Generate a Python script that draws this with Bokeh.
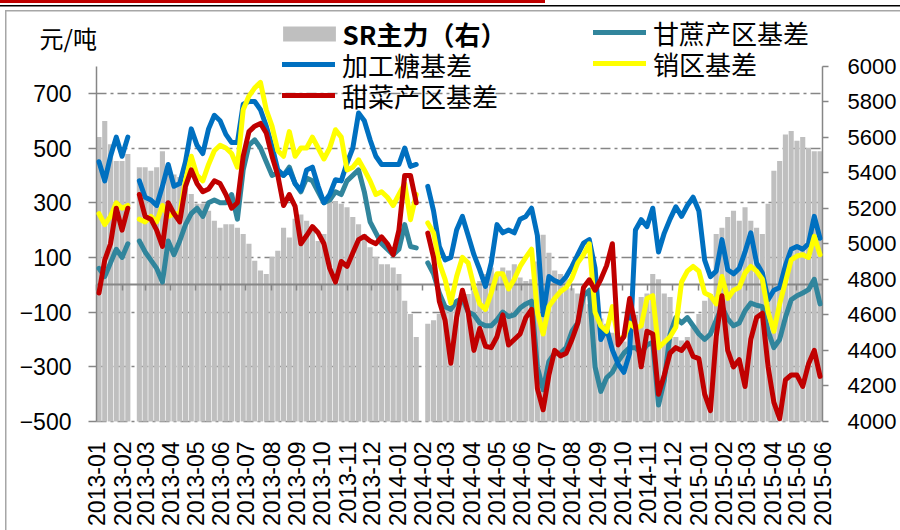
import math
import pandas as pd
from bokeh.plotting import figure
from bokeh.models import (Range1d, LinearAxis, DatetimeAxis, FixedTicker, Legend, LegendItem,
                          DatetimeTickFormatter, MonthsTicker, Label, CustomJSTickFormatter)
from bokeh.embed import file_html
from bokeh.resources import INLINE

nan = float("nan")

# weekly sample dates (x positions) and first / last month ticks
week_dates = pd.date_range("2013-01-04", periods=126, freq="7D")
x_first, x_last = pd.Timestamp("2013-01-01"), pd.Timestamp("2015-06-01")

# SR主力 (right axis, yuan/ton)
sr_main = [5600, 5690, 5560, 5465, 5465, 5505, nan, 5430, 5430, 5410, 5430, 5520, 5430, 5390, 5375, 5315,
           5280, 5225, 5225, 5185, 5130, 5090, 5110, 5110,
           5090, 5055, 5000, 4905, 4850, 4830, 4925, 4960, 5090, 5035, 5140, 5165, 5130, 5090, 5015, 5055,
           5280, 5240, 5225, 5205, 5150, 5110, 5055, 4980, 4925,
           4885, 4885, 4867, 4830, 4680, 4605, 4475, nan, 4550, 4570, 4605, 4640, 4640, 4680, 4717, 4717,
           4735, 4790, 4830, 4867, 4830, 4867, 4850, 4885, 4810,
           4790, 4800, 4900, 5050, 4950, 4850, 4830, 4800, 4750, 4720, 4700, 4660, 4620, 4580, 4550, 4500,
           4480, 4450, 4520, 4600, 4700, 4720, 4830, 4800, 4720, 4700,
           4475, 4455, 4475, 4530, 4605, 4680, 4717, 5055, 5090, 5150, 5185, 5130, 5205, 5130, 5090, 5055,
           5225, 5410, 5465, 5615, 5635, 5580, 5600, 5540, 5520, 5520]

# 甘蔗产区基差
cane_basis = [60, 30, 80, 130, 100, 150, nan, 160, 120, 90, 60, 10, 160, 110, 160, 220, 260, 280, 250, 300,
              310, 300, 300, 330,
              240, 420, 510, 530, 500, 450, 400, 410, 400, 430, 370, 340, 390, 380, 340, 300, 310, 340, 330,
              380, 400, 420, 340, 230, 190,
              150, 130, 110, 130, 220, 140, 135, nan, 80, 40, -30, -80, -90, -60, -50, -100, -110, -140, -150,
              -150, -128, -100, -116, -110, -85,
              -70, -60, -300, -384, -280, -250, -250, -230, -170, -140, -40, -20, -300, -390, -340, -320, -280,
              -250, -230, -230, -250, -220, -210, -440, -350, -180,
              -120, -140, -120, -150, -180, -200, -180, -130, -80, -125, -150, -140, -95, -67, -75, -80, -170,
              -230, -200, -120, -55, -40, -30, -18, 20, -70]

# 加工糖基差
refined_basis = [450, 380, 470, 540, 470, 540, nan, 380, 320, 310, 290, 360, 440, 360, 370, 450, 570, 510,
                 480, 570, 620, 600, 550, 520,
                 520, 660, 670, 670, 640, 580, 506, 420, 400, 420, 370, 345, 420, 430, 360, 300, 330, 384, 380,
                 445, 500, 628, 600, 530, 470,
                 440, 440, 440, 440, 500, 433, 440, nan, 360, 270, 140, 91, 100, 200, 250, 180, 110, 55, -6, 80,
                 220, 190, 200, 190, 240,
                 250, 280, 180, -110, 30, 15, 6, 30, 67, 110, 152, 165, 60, -200, -160, -238, -290, -320, -250,
                 200, 238, 213, 280, 120, 189, 240,
                 285, 250, 290, 320, 270, 90, 30, 50, 165, 55, 40, 60, 120, 190, 80, 43, -55, -20, -10, 70, 130,
                 140, 130, 150, 250, 170]

# 销区基差
sales_basis = [260, 220, 250, 300, 280, 290, nan, 240, 230, 250, 230, 290, 250, 260, 260, 380, 470, 400, 380,
               440, 490, 510, 500, 480,
               430, 640, 690, 720, 740, 640, 580, 490, 470, 560, 470, 500, 500, 540, 500, 460, 500, 567, 540,
               420, 430, 457, 420, 380, 330,
               340, 320, 290, 330, 370, 238, 330, nan, 226, 190, 80, 20, -67, 30, 100, 80, -6, -70, -90, -30,
               40, 40, -15, 20, 67,
               100, 130, -100, -180, -79, -50, -25, -10, 25, 80, 110, 150, -100, -150, -170, -80, -200, -190,
               -140, -160, -150, -50, -40, -230, -210, -190,
               -155, 10, 50, 67, 50, -30, -40, -70, 30, -50, -20, -10, 43, 67, 50, 20, -100, -170, -70, 10, 91,
               105, 110, 100, 177, 110]

# 甜菜产区基差
beet_basis = [-30, 90, 150, 280, 200, 280, nan, 330, 250, 240, 200, 140, 300, 260, 230, 360, 420, 370, 340,
              350, 380, 370, 330, 280,
              300, 470, 560, 580, 590, 555, 470, 400, 290, 330, 287, 150, 180, 213, 190, 150, 60, 10, 85, 67,
              116, 165, 177, 160, 150,
              175, 150, 110, 200, 400, 400, 300, nan, 189, 100, -60, -130, -287, -120, -20, -100, -240, -160,
              -225, -230, -190, -110, -220, -200, -180,
              -120, -90, -380, -457, -330, -240, -260, -250, -200, -140, -10, 18, -20, 20, 70, 150, -220, -190,
              -50, -150, -300, -170, -180, -400, -330, -250,
              -230, -240, -213, -262, -270, -400, -460, -190, -40, -240, -300, -274, -372, -200, -120, -104,
              -300, -430, -490, -348, -330, -330, -372, -290, -240, -335]

left_ticks = [-500, -300, -100, 100, 300, 500, 700]
right_ticks = [4000, 4200, 4400, 4600, 4800, 5000, 5200, 5400, 5600, 5800, 6000]
left_min, left_max = -500, 800
right_min, right_max = 4000, 6000
unit_text = "元/吨"

GRAY = "#BFBFBF"
TEAL = "#31859C"
BLUE = "#0070C0"
YELLOW = "#FFFF00"
RED = "#C00000"
AXIS = "#868686"
FONT = "Liberation Sans"
CJK = "Noto Sans CJK SC"

# ---- layout (pixels) ----
W, Hgt = 900, 530
AX_L, AX_R = 96, 822           # left / right value axes
AX_T, AX_B = 65.5, 421         # top / bottom of the value axes
FL, FT, FB = 10, 12, 435       # frame left / top / bottom
upp_l = (left_max - left_min) / (AX_B - AX_T)
upp_r = (right_max - right_min) / (AX_B - AX_T)
px_per_day = (AX_R - AX_L) / (x_last - x_first).days
x_start = x_first - pd.Timedelta(days=(AX_L - FL) / px_per_day)


def ms(t):
    return t.value / 1e6


x_bounds = (ms(x_first), ms(x_last))

p = figure(width=W, height=Hgt, x_axis_type="datetime",
           x_range=Range1d(x_start, x_last),
           y_range=Range1d(left_min - (FB - AX_B) * upp_l, left_max + (AX_T - FT) * upp_l),
           output_backend="svg", toolbar_location=None,
           min_border_left=FL, min_border_right=W - AX_R, min_border_top=FT, min_border_bottom=Hgt - FB)
p.extra_y_ranges = {"sr": Range1d(right_min - (FB - AX_B) * upp_r, right_max + (AX_T - FT) * upp_r)}
p.outline_line_color = None
p.background_fill_color = "white"
p.border_fill_alpha = 0
# report-page decorations: red bar and black rule at the top, grey frame at left / top
p.styles = {
    "background-color": "white",
    "background-image": ("linear-gradient(#C00000,#C00000), linear-gradient(#000000,#000000), "
                         "linear-gradient(#A6A6A6,#A6A6A6), linear-gradient(#A6A6A6,#A6A6A6)"),
    "background-size": "545px 3px, 100% 1.5px, 1.5px 100%, 100% 1.5px",
    "background-position": "0px 0px, 0px 5px, 4.5px 10px, 4.5px 10px",
    "background-repeat": "no-repeat",
}

# bottom axis: month labels only
p.xaxis.ticker = MonthsTicker(months=list(range(12)))
p.xaxis.bounds = x_bounds
p.xaxis.formatter = DatetimeTickFormatter(days="%Y-%m", months="%Y-%m", years="%Y-%m")
p.xaxis.major_label_orientation = math.pi / 2
p.xaxis.axis_line_color = None
p.xaxis.major_tick_line_color = None
p.xaxis.minor_tick_line_color = None
p.xaxis.major_tick_out = 0
p.xaxis.major_label_standoff = 6
p.xaxis.major_label_text_font = FONT
p.xaxis.major_label_text_font_size = "23px"
p.xaxis.major_label_text_color = "black"
p.xgrid.visible = False

# horizontal category axis drawn at zero, with month tick marks
zero_axis = DatetimeAxis(fixed_location=0, bounds=x_bounds,
                         ticker=MonthsTicker(months=list(range(12))),
                         formatter=CustomJSTickFormatter(code="return ''"))
zero_axis.axis_line_color = AXIS
zero_axis.axis_line_width = 2
zero_axis.major_tick_line_color = AXIS
zero_axis.major_tick_line_width = 1.5
zero_axis.major_tick_in = 0
zero_axis.major_tick_out = 6
zero_axis.minor_tick_line_color = None
p.add_layout(zero_axis, "below")

# left axis, pinned at the first date
p.yaxis.fixed_location = ms(x_first)
p.yaxis.ticker = FixedTicker(ticks=left_ticks)
p.yaxis.bounds = (left_min, left_max)
p.yaxis.axis_line_color = AXIS
p.yaxis.axis_line_width = 1.5
p.yaxis.major_tick_line_color = AXIS
p.yaxis.major_tick_line_width = 1.5
p.yaxis.major_tick_in = 0
p.yaxis.major_tick_out = 8
p.yaxis.minor_tick_line_color = None
p.yaxis.major_label_standoff = 17
p.yaxis.major_label_text_font = FONT
p.yaxis.major_label_text_font_size = "23px"
p.yaxis.major_label_text_color = "black"

p.ygrid.ticker = FixedTicker(ticks=left_ticks)
p.ygrid.cross_bounds = x_bounds
p.ygrid.grid_line_color = AXIS
p.ygrid.grid_line_width = 1.5
p.ygrid.grid_line_dash = "10 4 3 4"

# right axis
ax_r = LinearAxis(y_range_name="sr", ticker=FixedTicker(ticks=right_ticks), bounds=(right_min, right_max))
ax_r.axis_line_color = AXIS
ax_r.axis_line_width = 1.5
ax_r.major_tick_line_color = AXIS
ax_r.major_tick_line_width = 1.5
ax_r.major_tick_in = 0
ax_r.major_tick_out = 6
ax_r.minor_tick_line_color = None
ax_r.major_label_standoff = 19
ax_r.major_label_text_font = FONT
ax_r.major_label_text_font_size = "22px"
ax_r.major_label_text_color = "black"
p.add_layout(ax_r, "right")

# SR bars
bar_w = 6.2 * 24 * 3600 * 1000
bars = p.vbar(x=week_dates, top=sr_main, bottom=right_min, width=bar_w, y_range_name="sr",
              fill_color=GRAY, line_color=None)

lw = 5
line_kw = dict(line_width=lw, line_join="round", line_cap="round", level="overlay")
r_cane = p.line(week_dates, cane_basis, line_color=TEAL, **line_kw)
r_ref = p.line(week_dates, refined_basis, line_color=BLUE, **line_kw)
r_sales = p.line(week_dates, sales_basis, line_color=YELLOW, **line_kw)
r_beet = p.line(week_dates, beet_basis, line_color=RED, **line_kw)

RH = 40


def add_leg(label, rend, left, center, gw=53, gh=RH, standoff=7, bold=False):
    lg = Legend(items=[LegendItem(label=label, renderers=[rend])],
                location=(left - FL, FB - center - RH / 2),
                glyph_width=gw, glyph_height=gh, label_height=RH, label_standoff=standoff,
                label_text_font=CJK, label_text_font_size="26px", label_text_color="black",
                label_text_font_style="bold" if bold else "normal",
                padding=0, margin=0, spacing=0,
                border_line_color=None, background_fill_alpha=0)
    p.add_layout(lg, "center")


add_leg("SR主力（右）", bars, 275.5, 33, gw=66, gh=19, standoff=1, bold=True)
add_leg("加工糖基差", r_ref, 282, 64)
add_leg("甜菜产区基差", r_beet, 282, 95)
add_leg("甘蔗产区基差", r_cane, 593, 32)
add_leg("销区基差", r_sales, 593, 63)

unit = Label(x=39 - FL, y=FB - 37, x_units="screen", y_units="screen", text=unit_text,
             text_font=CJK, text_font_size="24px", text_baseline="middle", text_color="black")
p.add_layout(unit, "center")

open("out.html", "w").write(file_html(p, INLINE))
